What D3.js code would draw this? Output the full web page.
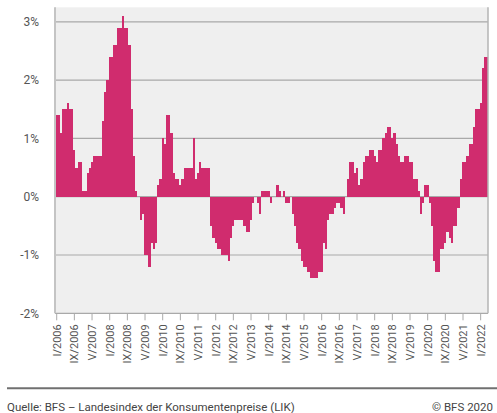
<!DOCTYPE html>
<html><head><meta charset="utf-8">
<script src="https://cdn.jsdelivr.net/npm/d3@7"></script>
<style>html,body{margin:0;padding:0;background:#fff;}svg{display:block;font-family:Roboto, Arial, sans-serif;}</style>
</head><body><svg id="c" width="497" height="413"></svg>
<script>
const years = [2006,2007,2008,2009,2010,2011,2012,2013,2014,2015,2016,2017,2018,2019,2020,2021,2022];
const romanMonths = ["I","II","III","IV","V","VI","VII","VIII","IX","X","XI","XII"];
const values = [
  1.4, 1.4, 1.1, 1.5, 1.5, 1.6, 1.5, 1.5, 0.8, 0.5, 0.6, 0.6,
  0.1, 0.1, 0.4, 0.5, 0.6, 0.7, 0.7, 0.7, 0.7, 1.3, 1.8, 2.0,
  2.4, 2.4, 2.6, 2.6, 2.9, 2.9, 3.1, 2.9, 2.9, 2.6, 1.5, 0.7,
  0.1, 0.0, -0.4, -0.3, -1.0, -1.0, -1.2, -0.8, -0.9, -0.8, 0.2, 0.3,
  1.0, 0.9, 1.4, 1.4, 1.1, 0.4, 0.3, 0.3, 0.2, 0.3, 0.5, 0.5,
  0.5, 0.5, 1.0, 0.3, 0.4, 0.6, 0.5, 0.5, 0.5, 0.5, -0.5, -0.7,
  -0.8, -0.9, -0.9, -1.0, -1.0, -1.0, -1.1, -0.7, -0.5, -0.4, -0.4, -0.4,
  -0.4, -0.5, -0.6, -0.6, -0.4, -0.1, 0.0, -0.1, -0.3, 0.1, 0.1, 0.1,
  0.1, -0.1, 0.0, 0.0, 0.2, 0.1, 0.0, 0.1, -0.1, -0.1, 0.0, -0.3,
  -0.5, -0.8, -0.9, -1.1, -1.2, -1.2, -1.3, -1.4, -1.4, -1.4, -1.4, -1.3,
  -1.3, -0.8, -0.9, -0.4, -0.3, -0.3, -0.2, -0.1, -0.1, -0.2, -0.3, 0.0,
  0.3, 0.6, 0.6, 0.4, 0.5, 0.2, 0.3, 0.6, 0.7, 0.7, 0.8, 0.8,
  0.7, 0.6, 0.8, 0.8, 1.0, 1.1, 1.2, 1.2, 1.0, 1.1, 0.9, 0.7,
  0.6, 0.6, 0.7, 0.7, 0.6, 0.6, 0.3, 0.3, 0.1, -0.3, -0.1, 0.2,
  0.2, -0.1, -0.5, -1.1, -1.3, -1.3, -0.9, -0.9, -0.8, -0.6, -0.7, -0.8,
  -0.5, -0.5, -0.2, 0.3, 0.6, 0.6, 0.7, 0.9, 0.9, 1.2, 1.5, 1.5,
  1.6, 2.2, 2.4, 2.4
];
const tickLabels = ["I/2006","IX/2006","V/2007","I/2008","IX/2008","V/2009","I/2010","IX/2010","V/2011",
  "I/2012","IX/2012","V/2013","I/2014","IX/2014","V/2015","I/2016","IX/2016","V/2017","I/2018",
  "IX/2018","V/2019","I/2020","IX/2020","V/2021","I/2022"];
const yTicks = [-2, -1, 0, 1, 2, 3];
const sourceText = "Quelle: BFS \u2013 Landesindex der Konsumentenpreise (LIK)";
const copyrightText = "\u00a9 BFS 2020";

const categories = [];
years.forEach(yr => romanMonths.forEach(m => categories.push(m + "/" + yr)));
const cats = categories.slice(0, values.length);
const data = cats.map((c, i) => ({c: c, v: values[i]}));

const svg = d3.select("#c");
const P = {left: 55, right: 488, top: 7.3, bottom: 313.3};
const x = d3.scaleBand().domain(cats).range([55.6, 488.4]).padding(0);
const y = d3.scaleLinear().domain([-2, 3.25]).range([P.bottom, 7.2]);

svg.append("rect").attr("x", P.left).attr("y", P.top)
  .attr("width", P.right - P.left).attr("height", P.bottom - P.top).attr("fill", "#efefef");

svg.append("g").selectAll("line").data(yTicks).join("line")
  .attr("x1", P.left).attr("x2", P.right)
  .attr("y1", d => y(d)).attr("y2", d => y(d))
  .attr("stroke", "#a9a9a9").attr("stroke-width", 1.2);

svg.append("clipPath").attr("id", "pc").append("rect")
  .attr("x", P.left).attr("y", 0).attr("width", P.right - P.left).attr("height", 413);

svg.append("g").attr("clip-path", "url(#pc)").attr("shape-rendering", "crispEdges")
  .selectAll("rect").data(data).join("rect")
  .attr("x", d => x(d.c))
  .attr("width", x.bandwidth())
  .attr("y", d => y(Math.max(0, d.v)))
  .attr("height", d => Math.abs(y(d.v) - y(0)))
  .attr("fill", "#d02c6e");

svg.append("line").attr("x1", P.left).attr("x2", P.left).attr("y1", P.top).attr("y2", P.bottom)
  .attr("stroke", "#c4c4c4").attr("stroke-width", 2);
svg.append("line").attr("x1", P.right).attr("x2", P.right).attr("y1", P.top).attr("y2", P.bottom)
  .attr("stroke", "#b4b4b4").attr("stroke-width", 1.5);

// y labels
svg.append("g").selectAll("text").data(yTicks).join("text")
  .attr("x", 39).attr("y", d => y(d)).attr("dy", "0.35em")
  .attr("text-anchor", "end").attr("font-size", 12).attr("fill", "#555")
  .text(d => d + "%");

// x axis
const xAxis = d3.axisBottom(x).tickValues(tickLabels).tickSize(7).tickSizeOuter(0).tickPadding(4);
const gx = svg.append("g").attr("transform", `translate(0,${P.bottom})`).call(xAxis);
gx.select(".domain").remove();
gx.selectAll(".tick line").attr("stroke", "#aaa");
gx.selectAll(".tick text")
  .attr("font-size", 11).attr("font-family", "Roboto, Arial, sans-serif").attr("fill", "#555")
  .attr("text-anchor", "end").attr("transform", "rotate(-90)")
  .attr("x", -11).attr("y", 0).attr("dy", "0.35em");

// footer
svg.append("line").attr("x1", 7).attr("x2", 497).attr("y1", 388.3).attr("y2", 388.3)
  .attr("stroke", "#707070").attr("stroke-width", 2);
svg.append("text").attr("x", 7).attr("y", 411).attr("font-size", 11.5).attr("fill", "#444").text(sourceText);
svg.append("text").attr("x", 493).attr("y", 411).attr("text-anchor", "end")
  .attr("font-size", 11.5).attr("fill", "#444").text(copyrightText);
</script></body></html>
